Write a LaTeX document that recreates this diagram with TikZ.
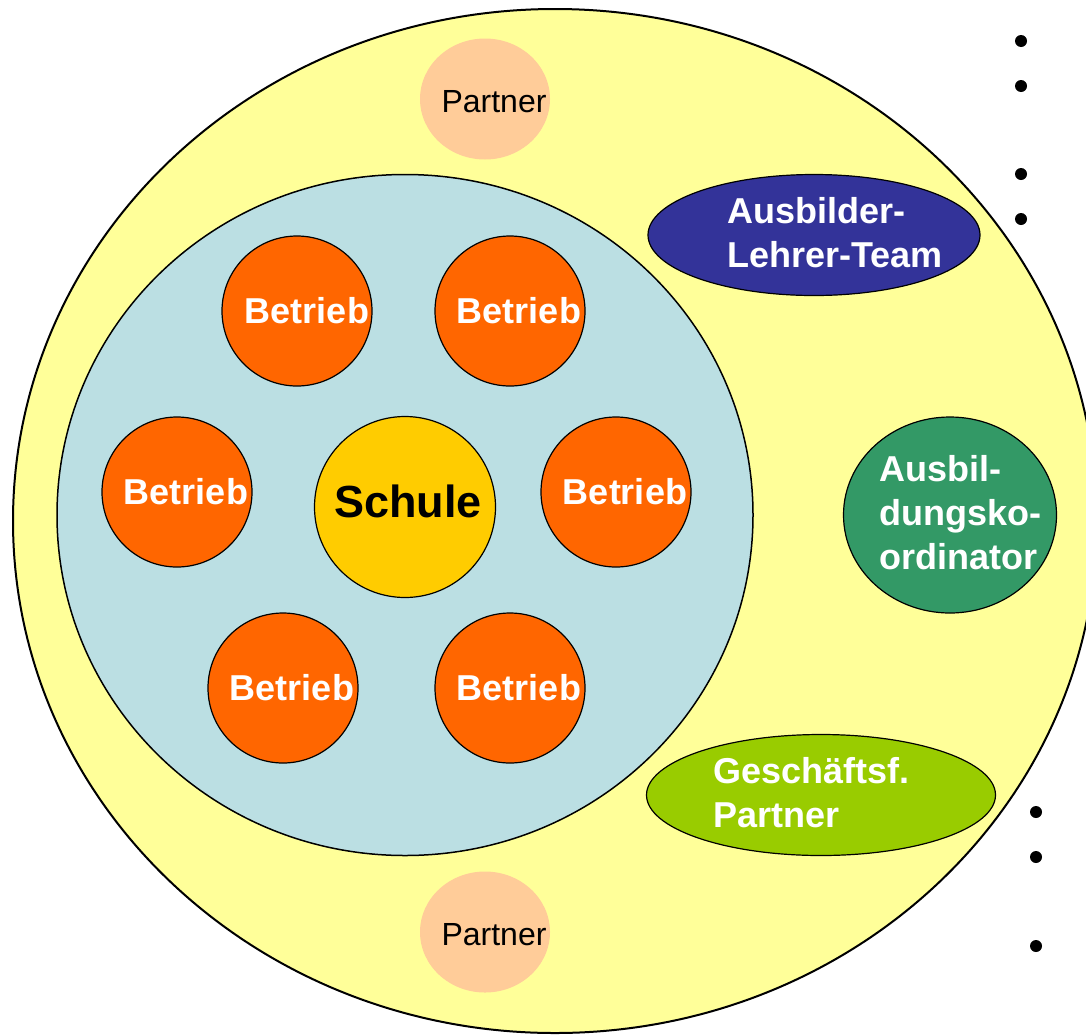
\documentclass[tikz,border=0pt]{standalone}
\usepackage{fontspec}
\setmainfont{Liberation Sans}
\usetikzlibrary{shapes.geometric}
\definecolor{cyellow}{HTML}{FFFF99}
\definecolor{cblue}{HTML}{BBDFE3}
\definecolor{corange}{HTML}{FF6600}
\definecolor{cgold}{HTML}{FFCC00}
\definecolor{cpeach}{HTML}{FFCC99}
\definecolor{cnavy}{HTML}{333399}
\definecolor{cgreen}{HTML}{339966}
\definecolor{clime}{HTML}{99CC00}
\tikzset{
  ring/.style={ellipse, draw=black, line width=1.5pt, inner sep=0pt},
  betrieb/.style={circle, draw=black, line width=1.2pt, fill=corange, minimum size=150pt, inner sep=0pt},
  btext/.style={text=white, font=\fontsize{36}{44}\selectfont\bfseries, inner sep=0pt},
  partnercirc/.style={ellipse, fill=cpeach, minimum width=130pt, minimum height=121pt, inner sep=0pt},
  ptext/.style={text=black, font=\fontsize{32}{36}\selectfont, inner sep=0pt},
  wtext/.style={text=white, font=\fontsize{36}{44}\selectfont\bfseries, align=left, inner sep=0pt, anchor=west},
  bullet/.style={circle, fill=black, minimum size=12pt, inner sep=0pt}
}
\begin{document}
\begin{tikzpicture}[x=1pt,y=-1pt]
\useasboundingbox (0,0) rectangle (1086,1034);
% outer yellow
\node[ring, fill=cyellow, line width=2pt, minimum width=1084pt, minimum height=1024pt] (outer) at (555,521) {};
% partners
\node[partnercirc] (p1) at (485,99) {};
\node[ptext] (p1t) at (494,102) {Partner};
\node[partnercirc] (p2) at (485,932) {};
\node[ptext] (p2t) at (494,935) {Partner};
% blue
\node[ring, fill=cblue, minimum width=696pt, minimum height=681pt] (blue) at (405,515) {};
% Schule
\node[circle, draw=black, line width=1.2pt, fill=cgold, minimum size=181pt, inner sep=0pt] (schule) at (405,507) {};
\node[text=black, font=\fontsize{45}{50}\selectfont\bfseries, inner sep=0pt] (schulet) at (408,501) {Schule};
% Betriebe
\node[betrieb] (b1) at (297,311) {};
\node[btext] (b1t) at (307,311) {Betrieb};
\node[betrieb] (b2) at (510,311) {};
\node[btext] (b2t) at (519,311) {Betrieb};
\node[betrieb] (b3) at (177,492) {};
\node[btext] (b3t) at (186,492) {Betrieb};
\node[betrieb] (b4) at (616,492) {};
\node[btext] (b4t) at (625,492) {Betrieb};
\node[betrieb] (b5) at (283,688) {};
\node[btext] (b5t) at (292,688) {Betrieb};
\node[betrieb] (b6) at (510,688) {};
\node[btext] (b6t) at (519,688) {Betrieb};
% Ausbilder-Lehrer-Team
\node[ring, line width=1.2pt, fill=cnavy, minimum width=332pt, minimum height=121pt] (alt) at (814,235) {};
\node[wtext] (altt) at (727,233) {Ausbilder-\\Lehrer-Team};
% Ausbildungskoordinator
\node[ring, line width=1.2pt, fill=cgreen, minimum width=213pt, minimum height=196pt] (ak) at (950,515) {};
\node[wtext] (akt) at (879,513) {Ausbil-\\dungsko-\\ordinator};
% Geschaeftsf. Partner
\node[ring, line width=1.2pt, fill=clime, minimum width=349pt, minimum height=121pt] (gp) at (821,795) {};
\node[wtext] (gpt) at (713,793) {Geschäftsf.\\Partner};
% bullets
\node[bullet] (d1) at (1021,41) {};
\node[bullet] (d2) at (1021,86) {};
\node[bullet] (d3) at (1021,174) {};
\node[bullet] (d4) at (1021,219) {};
\node[bullet] (d5) at (1036,812) {};
\node[bullet] (d6) at (1036,857) {};
\node[bullet] (d7) at (1036,946) {};
\end{tikzpicture}
\end{document}
